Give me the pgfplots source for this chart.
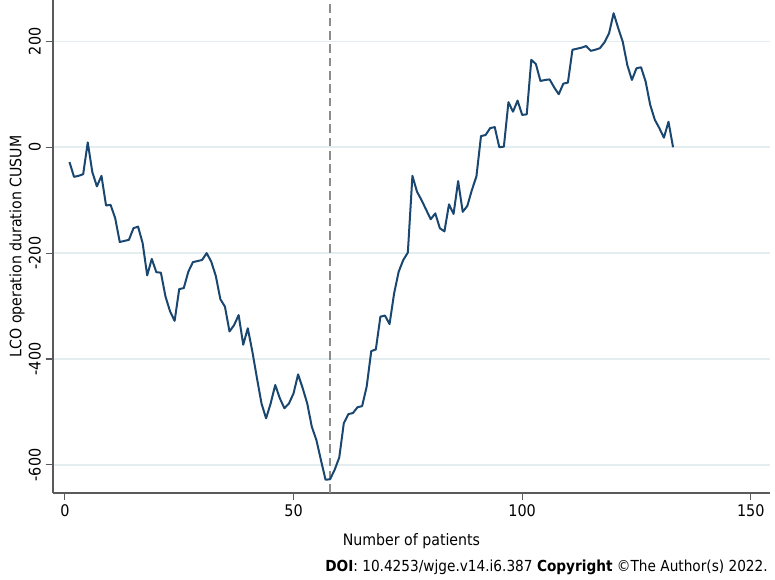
\documentclass[border=0pt]{standalone}
\usepackage{fontspec}
\setmainfont{DejaVu Sans Condensed}
\usepackage{pgfplots}
\usepackage{pgfplotstable}
\pgfplotsset{compat=1.18}
\definecolor{statanavy}{RGB}{26,71,111}
\definecolor{gridc}{RGB}{228,238,241}
\definecolor{axc}{RGB}{90,90,90}
\definecolor{dashc}{RGB}{140,140,140}
\pgfplotstableread{
n v
1 -28
2 -56
3 -54
4 -51
5 9
6 -47
7 -74
8 -54
9 -110
10 -109
11 -134
12 -179
13 -177
14 -175
15 -153
16 -150
17 -181
18 -242
19 -211
20 -236
21 -237
22 -282
23 -310
24 -328
25 -268
26 -266
27 -235
28 -217
29 -215
30 -213
31 -200
32 -216
33 -243
34 -287
35 -301
36 -348
37 -336
38 -317
39 -373
40 -342
41 -386
42 -436
43 -484
44 -512
45 -484
46 -449
47 -474
48 -493
49 -484
50 -465
51 -429
52 -455
53 -484
54 -528
55 -553
56 -591
57 -628
58 -627
59 -609
60 -586
61 -521
62 -504
63 -502
64 -491
65 -489
66 -452
67 -385
68 -382
69 -320
70 -318
71 -334
72 -276
73 -235
74 -213
75 -199
76 -54
77 -84
78 -100
79 -118
80 -136
81 -125
82 -153
83 -159
84 -108
85 -126
86 -64
87 -122
88 -111
89 -81
90 -55
91 21
92 23
93 36
94 38
95 0
96 1
97 85
98 67
99 88
100 61
101 62
102 165
103 157
104 125
105 127
106 128
107 113
108 100
109 120
110 122
111 184
112 186
113 188
114 191
115 182
116 184
117 187
118 198
119 215
120 253
121 225
122 199
123 155
124 127
125 149
126 151
127 124
128 80
129 52
130 36
131 18
132 48
133 0
}\cusum
\begin{document}
\begin{tikzpicture}
\useasboundingbox (-39.75pt,-65.25pt) rectangle (541.5pt,369.75pt);
\begin{axis}[
  at={(0,0)}, anchor=south west,
  scale only axis,
  width=537.75pt, height=369.75pt,
  xmin=-2.6, xmax=154.2,
  ymin=-653, ymax=278,
  axis lines=left,
  axis line style={-, axc, line width=0.8pt},
  xtick={0,50,100,150},
  ytick={-600,-400,-200,0,200},
  tick align=outside,
  major tick length=5.5pt,
  tick style={axc, line width=0.8pt},
  ymajorgrids,
  grid style={gridc, line width=1.1pt},
  /pgf/number format/assume math mode=true,
  ticklabel style={font=\fontsize{12}{14}\selectfont},
  yticklabel style={rotate=90, anchor=south},
  xlabel={Number of patients},
  ylabel={LCO operation duration CUSUM},
  label style={font=\fontsize{11.8}{14}\selectfont},
  xlabel style={at={(axis description cs:0.5,0)}, anchor=center, yshift=-36.5pt},
  ylabel style={at={(axis description cs:-0.0502,0.5)}, anchor=center},
  clip=false,
]
\addplot[dashc, line width=1.4pt, dash pattern=on 6.5pt off 3.5pt] coordinates {(58,-653) (58,278)};
\addplot[statanavy, line width=1.5pt, line join=round] table[x=n, y=v] {\cusum};
\end{axis}
\node[anchor=east, inner sep=0pt, font=\fontsize{11.4}{14}\selectfont] at (536.25pt,-55.5pt) {\textbf{DOI}: 10.4253/wjge.v14.i6.387 \textbf{Copyright} \textcopyright The Author(s) 2022.};
\end{tikzpicture}
\end{document}
